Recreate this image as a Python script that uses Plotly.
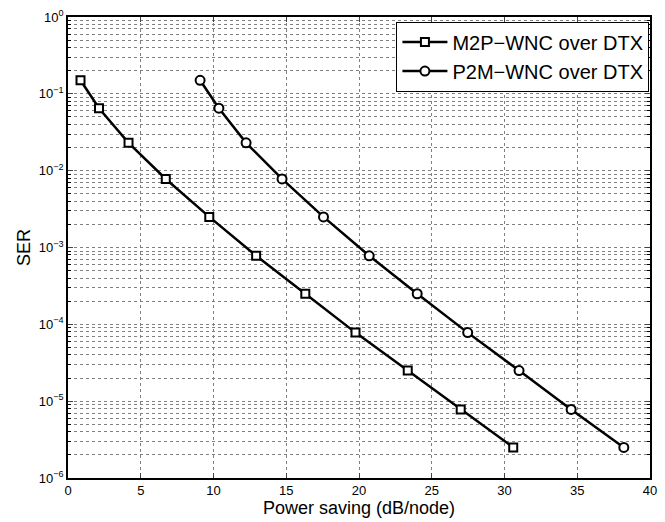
import plotly.graph_objects as go

m2p_x = [0.86, 2.13, 4.16, 6.72, 9.71, 12.93, 16.31, 19.76, 23.35, 26.99, 30.6]
m2p_y = [0.15, 0.065, 0.023, 0.0078, 0.0025, 0.00078, 0.00025, 7.8e-5, 2.5e-5, 7.8e-6, 2.5e-6]
p2m_x = [9.08, 10.37, 12.24, 14.71, 17.56, 20.7, 24.0, 27.47, 31.0, 34.58, 38.2]
p2m_y = [0.15, 0.065, 0.023, 0.0078, 0.0025, 0.00078, 0.00025, 7.8e-5, 2.5e-5, 7.8e-6, 2.5e-6]

x_ticks = [0, 5, 10, 15, 20, 25, 30, 35, 40]
y_tickvals = [1e-6, 1e-5, 1e-4, 1e-3, 1e-2, 1e-1, 1]
y_ticktext = ["10<sup>−6</sup>", "10<sup>−5</sup>", "10<sup>−4</sup>", "10<sup>−3</sup>",
              "10<sup>−2</sup>", "10<sup>−1</sup>", "10<sup>0</sup>"]

FONT = "Liberation Sans, Arial, Helvetica, sans-serif"

fig = go.Figure()
fig.add_trace(go.Scatter(
    x=m2p_x, y=m2p_y, mode="lines+markers", name="M2P−WNC over DTX",
    line=dict(color="black", width=2.5),
    marker=dict(symbol="square", size=8, color="white", line=dict(color="black", width=2)),
))
fig.add_trace(go.Scatter(
    x=p2m_x, y=p2m_y, mode="lines+markers", name="P2M−WNC over DTX",
    line=dict(color="black", width=2.5),
    marker=dict(symbol="circle", size=9, color="white", line=dict(color="black", width=2)),
))

fig.update_layout(
    width=665, height=522,
    margin=dict(l=68, r=8, t=13, b=44),
    paper_bgcolor="white", plot_bgcolor="white",
    font=dict(family=FONT, color="black", size=13),
    showlegend=True,
    legend=dict(
        x=0.999, y=0.99, xanchor="right", yanchor="top",
        bgcolor="white", bordercolor="black", borderwidth=1,
        font=dict(family=FONT, size=20, color="black"),
        tracegroupgap=0, itemwidth=45,
    ),
    xaxis=dict(
        range=[0, 40], tickvals=x_ticks, ticks="inside", ticklen=5,
        showline=True, linecolor="black", linewidth=1.5, mirror="ticks",
        showgrid=True, gridcolor="#808080", griddash="dot", gridwidth=1,
        zeroline=False,
        tickfont=dict(family=FONT, size=13, color="black"),
        title=dict(text="Power saving (dB/node)", font=dict(family=FONT, size=18, color="black"), standoff=2),
    ),
    yaxis=dict(
        type="log", range=[-6, 0], tickvals=y_tickvals, ticktext=y_ticktext,
        ticks="inside", ticklen=5,
        showline=True, linecolor="black", linewidth=1.5, mirror="ticks",
        showgrid=True, gridcolor="#808080", griddash="dot", gridwidth=1,
        zeroline=False,
        minor=dict(dtick="D1", ticks="inside", ticklen=3, tickcolor="black",
                   showgrid=True, gridcolor="#808080", griddash="dot", gridwidth=1),
        tickfont=dict(family=FONT, size=13, color="black"),
        title=dict(text="SER", font=dict(family=FONT, size=18, color="black"), standoff=4),
    ),
)

fig.write_html("out.html")
